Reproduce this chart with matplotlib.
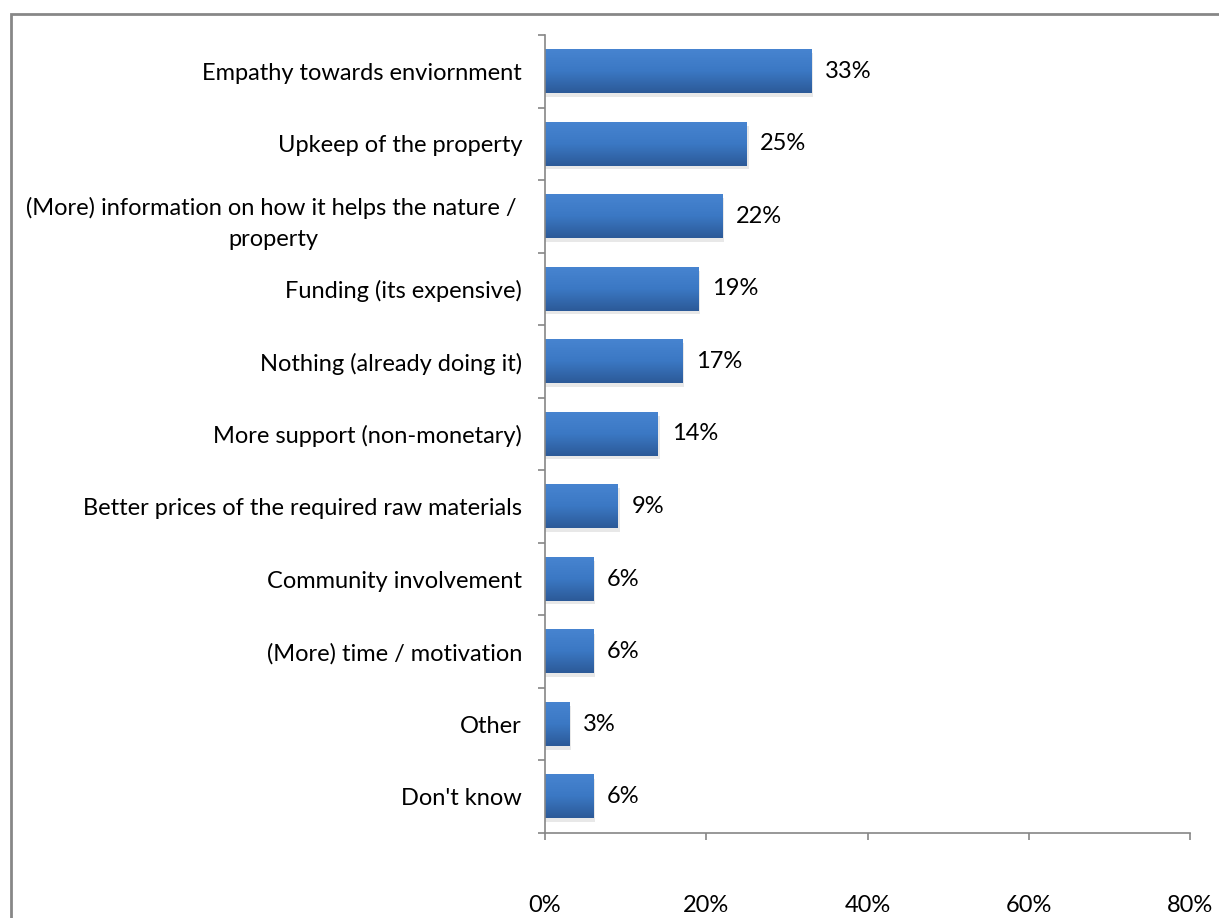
import matplotlib.pyplot as plt
import numpy as np
from matplotlib.patches import Rectangle
from matplotlib.colors import LinearSegmentedColormap
from matplotlib.ticker import FixedLocator, NullLocator, FuncFormatter

# --- Data ---
categories = [
    "Empathy towards enviornment",
    "Upkeep of the property",
    "(More) information on how it helps the nature / \nproperty",
    "Funding (its expensive)",
    "Nothing (already doing it)",
    "More support (non-monetary)",
    "Better prices of the required raw materials",
    "Community involvement",
    "(More) time / motivation",
    "Other",
    "Don't know",
]
values = [33, 25, 22, 19, 17, 14, 9, 6, 6, 3, 6]
x_ticks = [0, 20, 40, 60, 80]

FONT = ["Lato", "DejaVu Sans"]
plt.rcParams["font.family"] = FONT
FS = 17


def main():
    fig = plt.figure(figsize=(12.19, 9.18), dpi=100)
    ax = fig.add_axes([545 / 1219, 1 - 833 / 918, 645 / 1219, 798 / 918])

    n = len(categories)
    ypos = np.arange(n)
    bar_h = 0.6

    # gradient for the bars (light on top, dark at the bottom)
    cmap = LinearSegmentedColormap.from_list("bar", ["#2c5a98", "#3b78c4", "#4784d0"])
    grad = np.linspace(0, 1, 64).reshape(-1, 1)

    for y, v in zip(ypos, values):
        # soft shadow
        ax.add_patch(Rectangle((0, y - bar_h / 2 + 0.05), v + 0.25, bar_h,
                               facecolor="#000000", alpha=0.09, edgecolor="none", zorder=1))
        ax.imshow(grad, cmap=cmap, aspect="auto", origin="lower",
                  extent=(0, v, y + bar_h / 2, y - bar_h / 2), zorder=2)
        ax.text(v + 1.7, y, f"{v}%", va="center", ha="left", fontsize=FS, color="black")

    ax.set_xlim(0, 80)
    ax.set_ylim(n - 0.5, -0.5)

    # y ticks sit between the categories, labels at the centers
    ax.yaxis.set_major_locator(FixedLocator(list(ypos)))
    ax.set_yticklabels(categories, fontsize=FS, multialignment="center", linespacing=1.6)
    ax.yaxis.set_minor_locator(FixedLocator(list(np.arange(-0.5, n, 1.0))))
    ax.tick_params(axis="y", which="major", length=0, pad=16.5)
    ax.tick_params(axis="y", which="minor", length=5, color="#868686", width=1.2)

    ax.xaxis.set_major_locator(FixedLocator(x_ticks))
    ax.xaxis.set_major_formatter(FuncFormatter(lambda v, p: f"{v:.0f}%"))
    ax.xaxis.set_minor_locator(NullLocator())
    ax.tick_params(axis="x", length=5, color="#868686", width=1.2, labelsize=FS, pad=40)

    for side in ("top", "right"):
        ax.spines[side].set_visible(False)
    for side in ("left", "bottom"):
        ax.spines[side].set_color("#868686")
        ax.spines[side].set_linewidth(1.2)

    # chart area frame
    fig.patches.append(Rectangle((11 / 1219, -0.1), 1.2, 1.1 - 14 / 918,
                                 transform=fig.transFigure, fill=False,
                                 edgecolor="#878787", linewidth=2))

    fig.savefig("out.png", dpi=100)
    plt.close(fig)


if __name__ == "__main__":
    main()
